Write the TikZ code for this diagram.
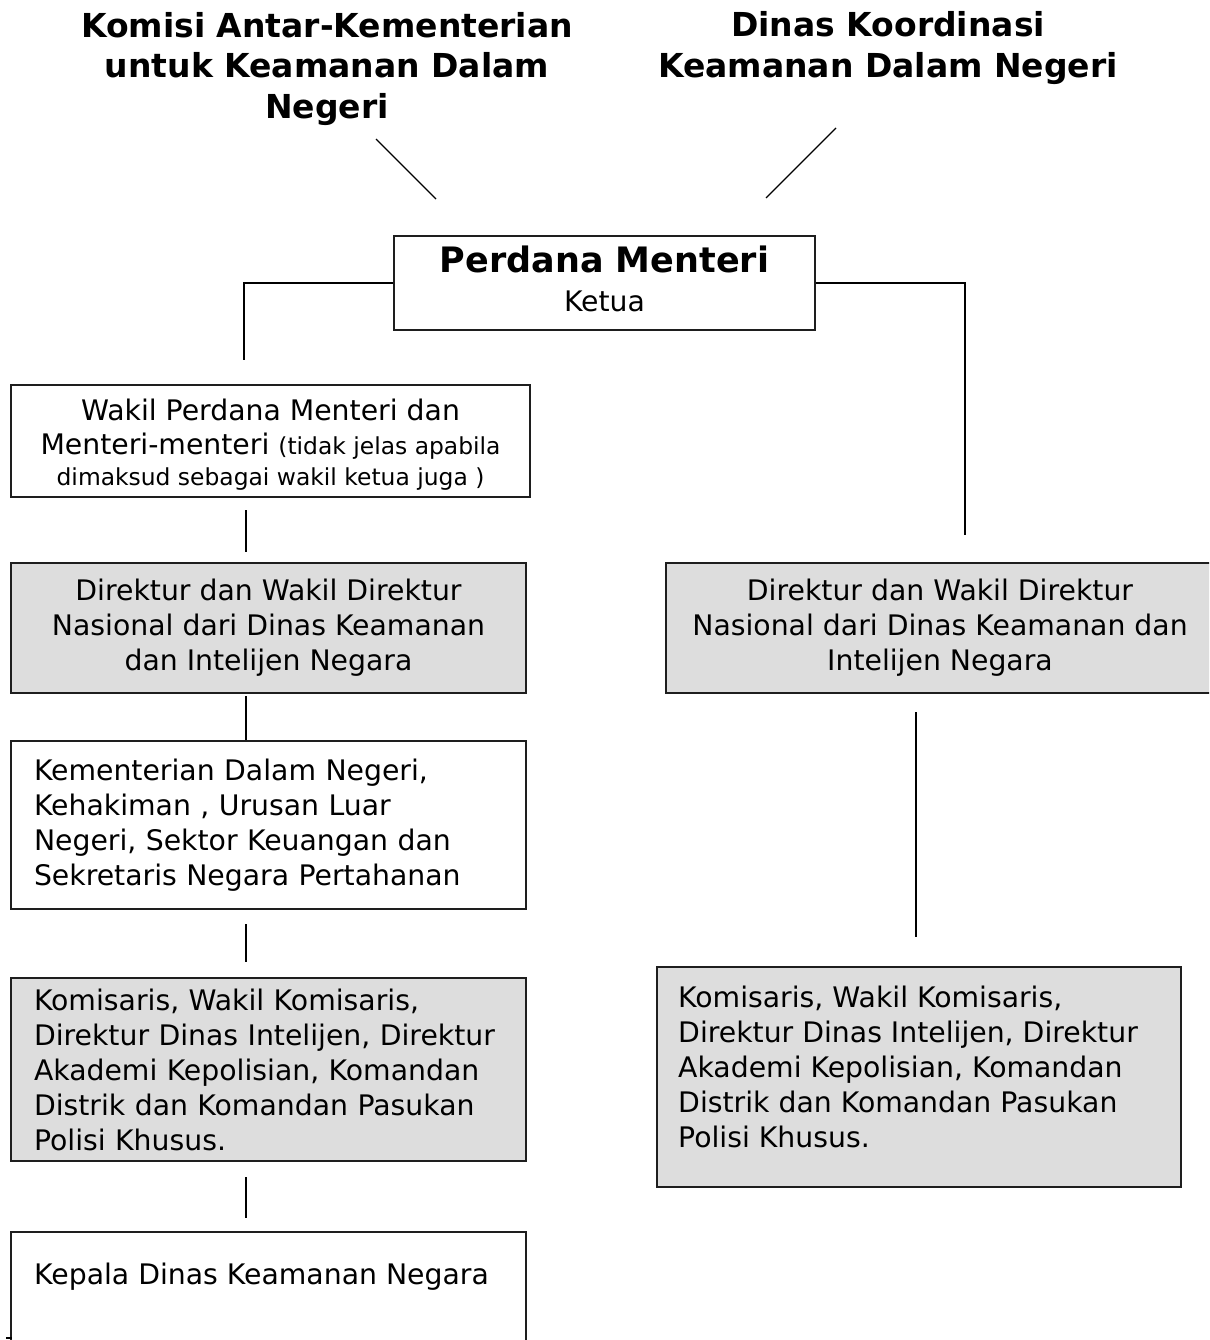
\documentclass[tikz,border=0pt]{standalone}
\usepackage{fontspec}
\setmainfont{DejaVu Sans}
\definecolor{boxgray}{RGB}{221,221,221}
\definecolor{edgecol}{RGB}{30,30,30}
\tikzset{
  orgbox/.style={draw=edgecol, line width=1.6pt, inner sep=0pt, anchor=center},
  grayfill/.style={fill=boxgray},
  bodytxt/.style={font=\fontsize{28.3}{35}\selectfont, text=black},
  titletxt/.style={font=\bfseries\fontsize{33}{40.5}\selectfont, align=center, text=black},
  conn/.style={draw=black, line width=1.3pt},
}
\begin{document}
\begin{tikzpicture}[x=1pt,y=-1pt]
\clip (0,0) rectangle (1209,1340);
\fill[white] (0,0) rectangle (1209,1340);

% titles
\node[titletxt] (t1) at (327,69) {Komisi Antar-Kementerian\\untuk Keamanan Dalam\\Negeri};
\node[titletxt] (t2) at (888,48) {Dinas Koordinasi\\Keamanan Dalam Negeri};

% diagonal connectors
\coordinate (d1a) at (376,139);
\coordinate (d1b) at (436,199);
\coordinate (d2a) at (836,128);
\coordinate (d2b) at (766,198);
\draw[conn] (d1a) -- (d1b);
\draw[conn] (d2a) -- (d2b);

% Perdana Menteri
\node[orgbox, fill=white, minimum width=421pt, minimum height=94pt] (pm) at (604.5,283) {};
\node[bodytxt, align=center, inner sep=0pt] (pmtxt) at (604.5,279)
  {{\bfseries\fontsize{35}{40}\selectfont Perdana Menteri}\\[4pt]Ketua};

% left column
\node[orgbox, fill=white, minimum width=519pt, minimum height=112pt] (wk) at (270.5,441) {};
\node[bodytxt, align=center, inner sep=0pt] (wktxt) at (270.5,445)
  {Wakil Perdana Menteri dan\\[-1pt]
   Menteri-menteri {\fontsize{23.4}{30}\selectfont (tidak jelas apabila}\\[-4pt]
   {\fontsize{23.4}{30}\selectfont dimaksud sebagai wakil ketua juga )}};

\node[orgbox, grayfill, minimum width=515pt, minimum height=130pt, align=center, bodytxt] (dl) at (268.5,628)
  {Direktur dan Wakil Direktur\\Nasional dari Dinas Keamanan\\dan Intelijen Negara};

\node[orgbox, fill=white, minimum width=515pt, minimum height=168pt, text width=469pt, inner xsep=23pt, align=left, bodytxt] (km) at (268.5,825)
  {Kementerian Dalam Negeri,\\Kehakiman , Urusan Luar\\Negeri, Sektor Keuangan dan\\Sekretaris Negara Pertahanan};

\node[orgbox, grayfill, minimum width=515pt, minimum height=183pt, text width=469pt, inner xsep=23pt, align=left, bodytxt] (kol) at (268.5,1069.5)
  {Komisaris, Wakil Komisaris,\\Direktur Dinas Intelijen, Direktur\\Akademi Kepolisian, Komandan\\Distrik dan Komandan Pasukan\\Polisi Khusus.};

\node[orgbox, fill=white, minimum width=515pt, minimum height=130pt] (kep) at (268.5,1297) {};
\node[bodytxt, anchor=west, inner sep=0pt] (keptxt) at (34,1277) {Kepala Dinas Keamanan Negara};
\coordinate (ticka) at (6,1338);
\coordinate (tickb) at (12,1338);
\draw[line width=2.2pt] (ticka) -- (tickb);

% right column
\node[orgbox, grayfill, minimum width=560pt, minimum height=130pt] (dr) at (946,628) {};
\node[bodytxt, align=center, inner sep=0pt] (drtxt) at (940,628)
  {Direktur dan Wakil Direktur\\Nasional dari Dinas Keamanan dan\\Intelijen Negara};

\node[orgbox, grayfill, minimum width=524pt, minimum height=220pt] (kor) at (919,1077) {};
\node[bodytxt, align=left, anchor=north west, inner sep=0pt] (kortxt) at (678,986)
  {Komisaris, Wakil Komisaris,\\Direktur Dinas Intelijen, Direktur\\Akademi Kepolisian, Komandan\\Distrik dan Komandan Pasukan\\Polisi Khusus.};

% connectors from Perdana Menteri
\coordinate (lstub) at (244,360);
\coordinate (rstub) at (965,535);
\draw[conn] (pm.west) -| (lstub);
\draw[conn] (pm.east) -| (rstub);

% short vertical connectors, left column
\coordinate (c1a) at (246,510); \coordinate (c1b) at (246,552);
\coordinate (c2a) at (246,696); \coordinate (c2b) at (246,740);
\coordinate (c3a) at (246,924); \coordinate (c3b) at (246,962);
\coordinate (c4a) at (246,1177); \coordinate (c4b) at (246,1218);
\draw[conn] (c1a) -- (c1b);
\draw[conn] (c2a) -- (c2b);
\draw[conn] (c3a) -- (c3b);
\draw[conn] (c4a) -- (c4b);

% right column connector
\coordinate (c5a) at (916,712); \coordinate (c5b) at (916,937);
\draw[conn] (c5a) -- (c5b);
\end{tikzpicture}
\end{document}
